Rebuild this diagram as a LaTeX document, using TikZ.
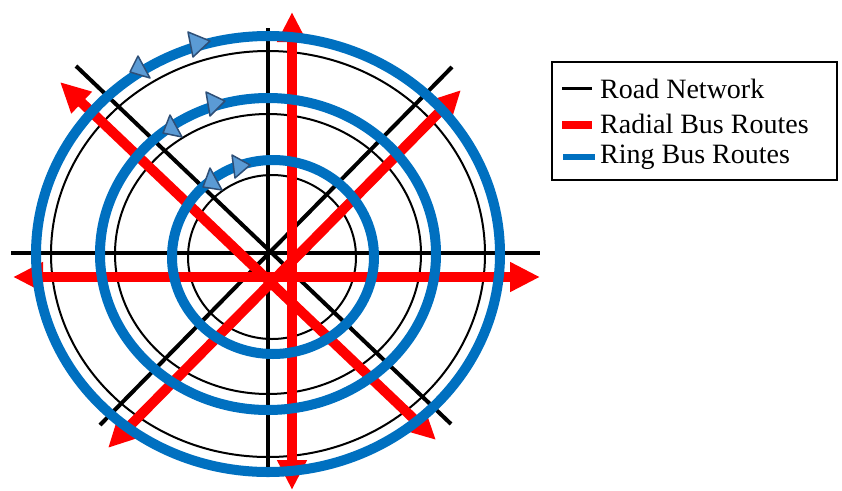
\documentclass[tikz,border=0pt]{standalone}
\usepackage{fontspec}
\setmainfont{Liberation Serif}
\usetikzlibrary{arrows.meta,positioning}
\definecolor{Road_Black}{HTML}{000000}
\definecolor{Radial_Red}{HTML}{FF0000}
\definecolor{Ring_Blue}{HTML}{0070C0}
\definecolor{Tip_Fill}{HTML}{5B9BD5}
\definecolor{Tip_Edge}{HTML}{2E4F77}
\newcommand{\legendfont}{\fontsize{28}{32}\selectfont}

\begin{document}
\begin{tikzpicture}[x=1pt, y=-1pt, >=Stealth,
    road/.style={line width=4pt, Road_Black},
    ringroad/.style={line width=2pt, Road_Black},
    radial/.style={line width=10pt, Radial_Red,
      {Triangle[length=30pt,width=28pt]}-{Triangle[length=30pt,width=28pt]}},
    busring/.style={line width=10pt, Ring_Blue},
    ringtip/.style={fill=Tip_Fill, draw=Tip_Edge, line width=1.5pt, line join=round},
    legendtext/.style={anchor=base west, inner sep=0pt, font=\legendfont}]
    \useasboundingbox (0,0) rectangle (842,490);

    % Road network - straight roads
    \draw[road] (268,28) -- (268,467);
    \draw[road] (11,253) -- (540,253);
    \draw[road] (76,66) -- (451,424);
    \draw[road] (452,67) -- (100,425);

    % Road network - ring roads
    \coordinate (hub) at (268,254);
    \draw[ringroad] (272,257) ellipse [x radius=84pt, y radius=82pt];
    \draw[ringroad] (hub) ellipse [x radius=153pt, y radius=140pt];
    \draw[ringroad] (hub) ellipse [x radius=217pt, y radius=203pt];

    % Radial bus routes
    \draw[radial] (292,12) -- (292,490);
    \draw[radial] (13,277) -- (540,277);
    \draw[radial] (60,82) -- (436,440);
    \draw[radial] (461,90) -- (108,448);

    % Ring bus routes
    \draw[busring] (273,257) ellipse [x radius=101pt, y radius=97pt];
    \draw[busring] (hub) ellipse [x radius=168pt, y radius=156pt];
    \draw[busring] (hub) ellipse [x radius=232pt, y radius=218pt];

    % Direction marks on the rings
    \draw[ringtip] (188,32) -- (193,57) -- (210,41) -- cycle;
    \draw[ringtip] (138,56) -- (130,72) -- (150,78) -- cycle;
    \draw[ringtip] (206,92) -- (210,116) -- (225,101) -- cycle;
    \draw[ringtip] (170,115) -- (163,133) -- (182,137) -- cycle;
    \draw[ringtip] (232,155) -- (235,178) -- (250,165) -- cycle;
    \draw[ringtip] (210,168) -- (203,187) -- (222,190) -- cycle;

    % Legend
    \node[draw=Road_Black, line width=2pt, minimum width=285pt, minimum height=118pt] (legend) at (694.5,121) {};
    \draw[line width=3pt, Road_Black] (562,88) -- (592,88);
    \node[legendtext] (roadlabel) at (600,98) {Road Network};
    \draw[line width=8pt, Radial_Red] (562,125) -- (592,125);
    \node[legendtext] (radiallabel) at (600,133) {Radial Bus Routes};
    \draw[line width=6pt, Ring_Blue] (563,157) -- (595,157);
    \node[legendtext] (ringlabel) at (600,163) {Ring Bus Routes};

\end{tikzpicture}
\end{document}
